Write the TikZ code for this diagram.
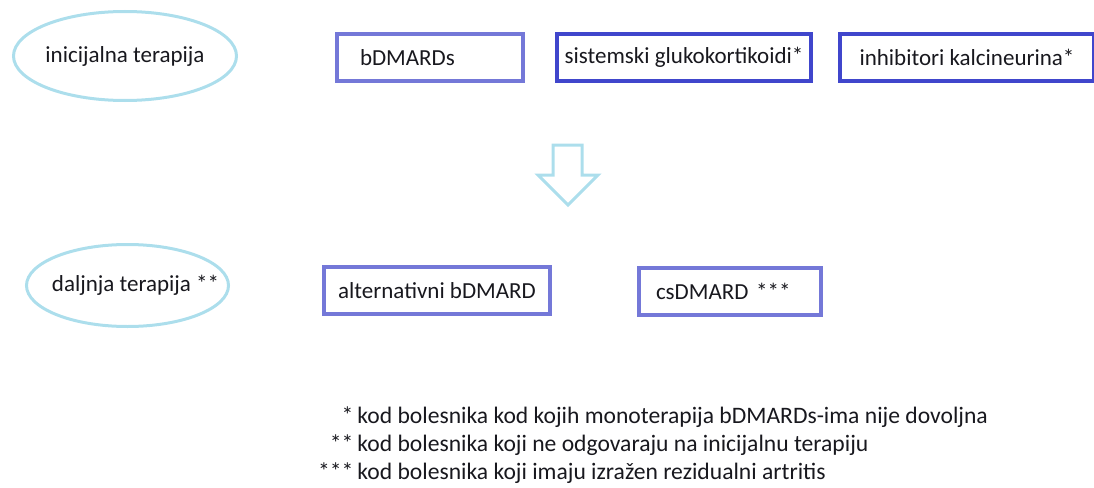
\documentclass[tikz,border=0pt]{standalone}
\usepackage{fontspec}
\setmainfont{Carlito}
\usetikzlibrary{shapes.geometric}
\definecolor{svijetloplava}{RGB}{172,222,236}
\definecolor{ljubicasta}{RGB}{116,120,216}
\definecolor{tamnoplava}{RGB}{64,70,204}
\definecolor{tekst}{RGB}{24,24,30}
\begin{document}
\begin{tikzpicture}
  [x=1pt,y=-1pt,every node/.style={text=tekst,font=\fontsize{23}{27}\selectfont},
   faza/.style={ellipse,draw=svijetloplava,line width=3pt,inner ysep=0pt,inner xsep=-25pt},
   lijek/.style={rectangle,draw=ljubicasta,line width=4pt,minimum height=47pt,inner ysep=0pt,align=left}]
  \useasboundingbox (0,0) rectangle (1094,487);
  \node (n1)[faza,minimum width=223pt,minimum height=89pt] at (125,56) {inicijalna terapija};
  \node (n2)[lijek,inner xsep=23pt,text width=140pt] at (430,57.5) {bDMARDs};
  \node (n3)[lijek,draw=tamnoplava,minimum width=254pt,inner xsep=0pt] at (684,57.5) {sistemski glukokortikoidi*};
  \node (n4)[lijek,draw=tamnoplava,minimum width=254pt,inner xsep=0pt] at (967,57.5) {inhibitori kalcineurina*};
  \node (n5)[faza,minimum width=202pt,minimum height=82pt] at (127.5,285.5) {\hspace*{16pt}daljnja terapija **};
  \node (n6)[lijek,minimum width=226pt,inner xsep=0pt] at (437,290.5) {alternativni bDMARD};
  \node (n7)[lijek,inner xsep=17pt,text width=148pt] at (730,291.5) {csDMARD ***};
  % prijelaz na daljnju terapiju
  \draw[svijetloplava,line width=3pt,line join=miter]
    (553,145) -- (582,145) -- (582,175) -- (598,175) -- (568,205) -- (538,175) -- (553,175) -- cycle;
  \node (napomene)[anchor=west,inner sep=0pt,font=\fontsize{23.6}{28}\selectfont] at (318,446)
    {\begin{tabular}{@{}r@{\hspace{4pt}}l@{}}
      {*} & kod bolesnika kod kojih monoterapija bDMARDs-ima nije dovoljna\\
      {**} & kod bolesnika koji ne odgovaraju na inicijalnu terapiju\\
      {***} & kod bolesnika koji imaju izražen rezidualni artritis
    \end{tabular}};
\end{tikzpicture}
\end{document}
